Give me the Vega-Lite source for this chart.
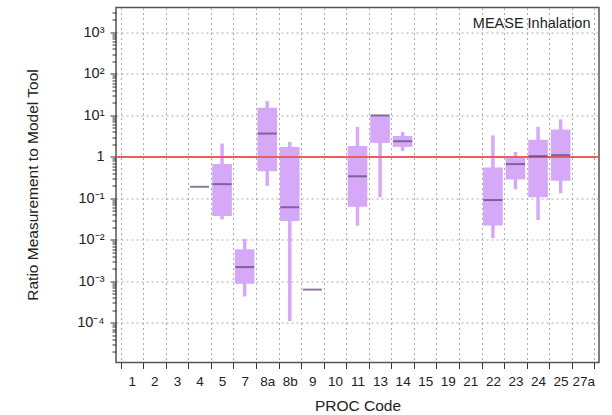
{
  "$schema": "https://vega.github.io/schema/vega-lite/v6.json",
  "width": 483,
  "height": 355,
  "autosize": "none",
  "padding": {"left": 116, "top": 7.5, "right": 13, "bottom": 52.5},
  "background": "white",
  "config": {
    "font": "Liberation Sans",
    "view": {"stroke": "#555", "strokeWidth": 1.5},
    "axis": {
      "labelFont": "Liberation Sans",
      "titleFont": "Liberation Sans",
      "labelColor": "#222",
      "titleColor": "#222",
      "labelFontSize": 13.5,
      "titleFontSize": 15.5,
      "titleFontWeight": "normal",
      "tickColor": "#333",
      "domain": false
    }
  },
  "data": {
    "values": [
      {"code": "4", "med": 0.19},
      {"code": "5", "lo": 0.031, "q1": 0.0376, "med": 0.22, "q3": 0.67, "hi": 2.1},
      {"code": "7", "lo": 0.00043, "q1": 0.00087, "med": 0.0022, "q3": 0.0059, "hi": 0.0105},
      {"code": "8a", "lo": 0.2, "q1": 0.45, "med": 3.65, "q3": 15.4, "hi": 22},
      {"code": "8b", "lo": 0.00011, "q1": 0.0284, "med": 0.061, "q3": 1.74, "hi": 2.3},
      {"code": "9", "med": 0.00063},
      {"code": "11", "lo": 0.022, "q1": 0.063, "med": 0.34, "q3": 1.84, "hi": 5.3},
      {"code": "13", "lo": 0.106, "q1": 2.17, "med": 10, "q3": 10, "hi": 10},
      {"code": "14", "lo": 1.39, "q1": 1.74, "med": 2.38, "q3": 3.2, "hi": 4.0},
      {"code": "22", "lo": 0.011, "q1": 0.022, "med": 0.091, "q3": 0.555, "hi": 3.3},
      {"code": "23", "lo": 0.165, "q1": 0.286, "med": 0.67, "q3": 0.97, "hi": 1.32},
      {"code": "24", "lo": 0.03, "q1": 0.106, "med": 1.04, "q3": 2.6, "hi": 5.3},
      {"code": "25", "lo": 0.132, "q1": 0.265, "med": 1.1, "q3": 4.6, "hi": 8.05}
    ]
  },
  "resolve": {"axis": {"y": "independent"}},
  "layer": [
    {
      "mark": {"type": "rule", "color": "#d6a8f8", "strokeWidth": 3.5},
      "encoding": {
        "x": {
          "field": "code", "type": "nominal",
          "scale": {"domain": ["1","2","3","4","5","7","8a","8b","9","10","11","13","14","15","19","21","22","23","24","25","27a"], "paddingInner": 0, "paddingOuter": 0.2},
          "axis": {
            "title": "PROC Code", "labelAngle": 0, "tickBand": "extent",
            "tickSize": 6, "labelPadding": 6, "grid": true,
            "gridColor": "#aaa", "gridDash": [2, 3], "gridWidth": 1,
            "titleY": 43, "titleBaseline": "middle"
          }
        },
        "y": {
          "field": "lo", "type": "quantitative",
          "scale": {"type": "log", "domain": [0.000011, 4000], "nice": false},
          "axis": {
            "orient": "left",
            "title": "Ratio Measurement to Model Tool",
            "values": [0.0001, 0.001, 0.01, 0.1, 1, 10, 100, 1000],
            "labelExpr": "datum.value == 1 ? '1' : datum.value == 10 ? '10¹' : datum.value == 100 ? '10²' : datum.value == 1000 ? '10³' : datum.value == 0.1 ? '10⁻¹' : datum.value == 0.01 ? '10⁻²' : datum.value == 0.001 ? '10⁻³' : '10⁻⁴'",
            "labelFontSize": 14.5,
            "tickSize": 6, "labelPadding": 6, "grid": true,
            "gridColor": "#aaa", "gridDash": [2, 3], "gridWidth": 1,
            "titleX": -84, "titleY": 177, "titleBaseline": "middle"
          }
        },
        "y2": {"field": "hi"}
      }
    },
    {
      "mark": {"type": "bar", "color": "#d6a8f8", "width": {"band": 0.87}},
      "encoding": {
        "x": {"field": "code", "type": "nominal"},
        "y": {"field": "q1", "type": "quantitative", "axis": null},
        "y2": {"field": "q3"}
      }
    },
    {
      "mark": {"type": "rule", "color": "#e8605a", "strokeWidth": 1.5},
      "encoding": {
        "y": {"datum": 1, "type": "quantitative", "axis": null}
      }
    },
    {
      "mark": {"type": "tick", "color": "#5a4470", "thickness": 2, "size": 19},
      "encoding": {
        "x": {"field": "code", "type": "nominal"},
        "y": {"field": "med", "type": "quantitative", "axis": {
          "orient": "left", "title": null, "labels": false, "grid": false, "tickSize": 4,
          "values": [0.00002,0.00003,0.00004,0.00005,0.00006,0.00007,0.00008,0.00009,
                     0.0002,0.0003,0.0004,0.0005,0.0006,0.0007,0.0008,0.0009,
                     0.002,0.003,0.004,0.005,0.006,0.007,0.008,0.009,
                     0.02,0.03,0.04,0.05,0.06,0.07,0.08,0.09,
                     0.2,0.3,0.4,0.5,0.6,0.7,0.8,0.9,
                     2,3,4,5,6,7,8,9,20,30,40,50,60,70,80,90,
                     200,300,400,500,600,700,800,900,2000,3000]
        }}
      }
    },
    {
      "data": {"values": [{"label": "MEASE Inhalation"}]},
      "mark": {"type": "text", "align": "right", "baseline": "middle", "fontSize": 14.5, "font": "Liberation Sans", "color": "#222", "dx": -4},
      "encoding": {
        "text": {"field": "label"},
        "x": {"datum": "27a", "type": "nominal", "bandPosition": 1},
        "y": {"datum": 1600, "type": "quantitative", "axis": null}
      }
    }
  ]
}
